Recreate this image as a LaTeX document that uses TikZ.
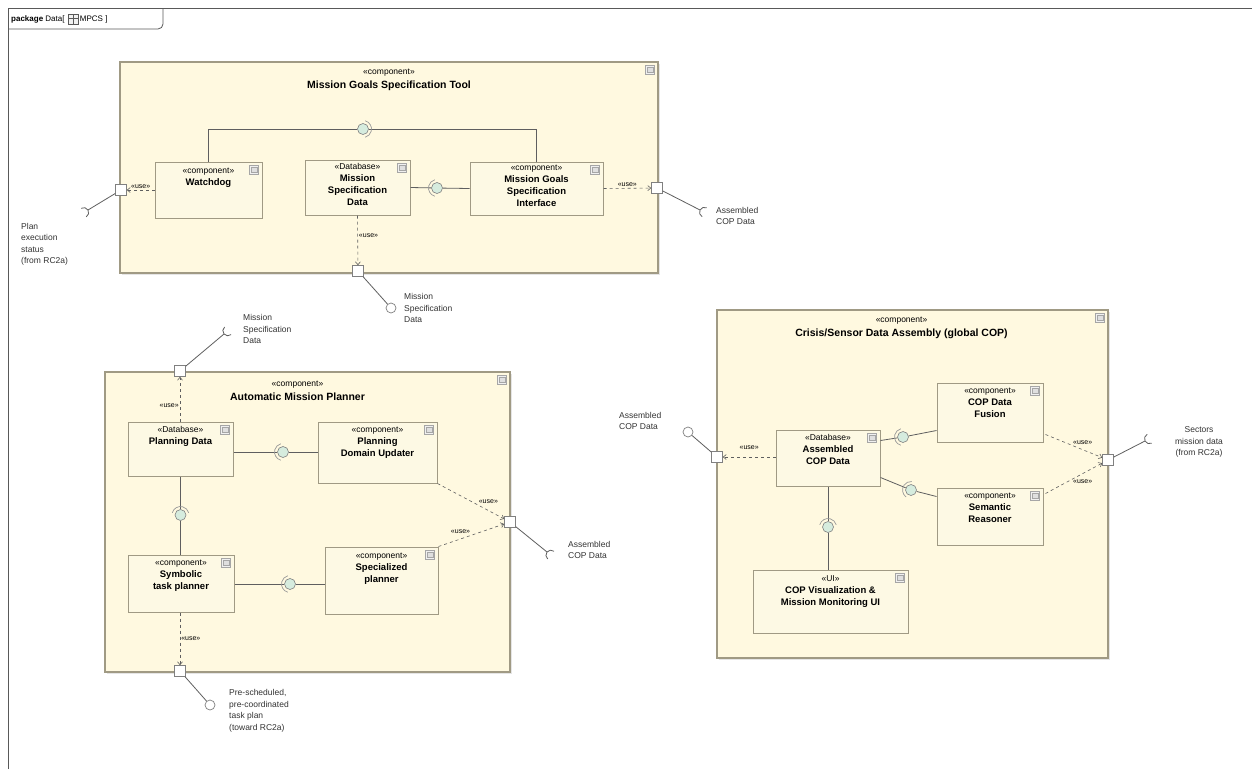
\documentclass[tikz,border=0pt]{standalone}
\usepackage{fontspec}
\setmainfont{Liberation Sans}
\usetikzlibrary{arrows.meta,shadows,calc}
\definecolor{boxfill}{RGB}{253,249,228}
\definecolor{outerfill}{RGB}{255,249,224}
\definecolor{boxline}{RGB}{160,154,132}
\definecolor{ballfill}{RGB}{214,236,222}
\definecolor{linec}{RGB}{95,95,95}
\newcommand\stt[1]{{\normalfont\fontsize{8.5}{11}\selectfont «#1»}}
\newcommand\cicon[1]{%
  \draw[gray!70,fill=gray!12,line width=0.5pt] ($(#1)+(-13,4)$) rectangle ++(9,9);
  \draw[gray!70,fill=gray!25,line width=0.4pt] ($(#1)+(-11.5,6)$) rectangle ++(6,5);}
\newcommand\sock[2]{\draw[conn] ($(#1)+(#2:5)+(#2+90:5)$) arc[start angle=#2+90, end angle=#2+270, radius=5];}
\newcommand\asm[2]{\draw[gray!80,line width=0.7pt] ($(#1)+(#2-75:8.5)$) arc[start angle=#2-75, end angle=#2+75, radius=8.5];}
\tikzset{
  container/.style={draw=boxline, line width=1.2pt, fill=outerfill, drop shadow={shadow xshift=1.5pt,shadow yshift=-1.5pt,fill=gray!40}},
  part/.style={draw=boxline, line width=1pt, fill=boxfill, drop shadow={shadow xshift=1.2pt,shadow yshift=-1.2pt,fill=gray!40}},
  port/.style={draw=gray, fill=white, minimum size=11pt, inner sep=0pt, line width=0.6pt},
  ball/.style={circle, draw=gray, fill=ballfill, minimum size=11pt, inner sep=0pt, line width=0.6pt},
  lolly/.style={circle, draw=gray, fill=white, minimum size=10pt, inner sep=0pt, line width=0.7pt},
  conn/.style={draw=linec, line width=0.8pt},
  dep/.style={dashed, draw=linec, line width=0.6pt, -{Straight Barb[length=3pt,width=5pt]}},
  nm/.style={font=\bfseries\fontsize{9.5}{12}\selectfont, align=center, inner sep=1pt},
  ttl/.style={font=\bfseries\fontsize{10.5}{14}\selectfont, align=center, inner sep=1pt},
  ext/.style={font=\fontsize{8.5}{11.5}\selectfont, align=left, text=black!80, inner sep=1pt},
  use/.style={font=\fontsize{7}{8}\selectfont, inner sep=1pt}
}
\begin{document}
\begin{tikzpicture}[x=1pt,y=-1pt]
\useasboundingbox (0,0) rectangle (1252,769);
\fill[white] (0,0) rectangle (1252,769);
% frame
\draw[gray!70!black, line width=1pt] (8,769) -- (8,8) -- (1252,8);
\draw[gray!70!black, line width=0.8pt, rounded corners=5pt] (8,29) -| (163,8);
\node[anchor=west, font=\fontsize{8}{9}\selectfont, inner sep=0pt] (tabA) at (11,19) {\textbf{package} Data[};
\draw[gray!70!black, fill=gray!10, line width=0.5pt] ($(tabA.east)+(3,-5)$) rectangle ++(10,10);
\draw[gray!70!black, line width=0.4pt] ($(tabA.east)+(3,-1)$) -- ++(10,0) ($(tabA.east)+(8,-5)$) -- ++(0,10);
\node[anchor=west, font=\fontsize{8}{9}\selectfont, inner sep=0pt] (tabB) at ($(tabA.east)+(15,0)$) {MPCS ]};

% ===== Mission Goals Specification Tool =====
\node[container, minimum width=538, minimum height=211,
  label={[ttl, anchor=north, yshift=-6pt]north:{\stt{component}\\Mission Goals Specification Tool}}] (mgst) at (389,167.5) {};
\cicon{mgst.north east}
\node[part, minimum width=107, minimum height=56,
  label={[nm, anchor=north, yshift=-5pt]north:{\stt{component}\\Watchdog}}] (wd) at (208.5,190) {};
\cicon{wd.north east}
\node[part, minimum width=105, minimum height=55,
  label={[nm, anchor=north, yshift=-3pt]north:{\stt{Database}\\Mission\\Specification\\Data}}] (msd) at (357.5,187.5) {};
\cicon{msd.north east}
\node[part, minimum width=133, minimum height=53,
  label={[nm, anchor=north, yshift=-2pt]north:{\stt{component}\\Mission Goals\\Specification\\Interface}}] (mgsi) at (536.5,188.5) {};
\cicon{mgsi.north east}
\node[ball] (b1) at (363,129) {};
\draw[conn] (wd.north) |- (b1) -| (mgsi.north);
\asm{b1}{0}
\node[ball] (b2) at (437,188) {};
\draw[conn] (msd.east) -- (b2) -- (mgsi.west);
\asm{b2}{180}
% ports
\node[port] (p1) at (121,190) {};
\node[port] (p2) at (657,188) {};
\node[port] (p3) at (358,271) {};
\draw[dep] (wd.west) -- (p1) node[use, midway, above] {«use»};
\draw[dep] (mgsi.east) -- (p2) node[use, midway, above] {«use»};
\draw[dep] (msd.south) -- (p3) node[use, pos=0.4, right] {«use»};
\coordinate (s1) at (88,210);
\draw[conn] (p1) -- (s1); \sock{s1}{149}
\coordinate (s2) at (700,210);
\draw[conn] (p2) -- (s2); \sock{s2}{27}
\node[lolly] (c3) at (391,308) {};
\draw[conn] (p3) -- (c3);
\node[ext, anchor=north west] (l1) at (20,222) {Plan\\execution\\status\\(from RC2a)};
\node[ext, anchor=west] (l2) at (715,216) {Assembled\\COP Data};
\node[ext, anchor=west] (l3) at (403,308) {Mission\\Specification\\Data};

% ===== Automatic Mission Planner =====
\node[container, minimum width=405, minimum height=300,
  label={[ttl, anchor=north, yshift=-8pt, xshift=-10pt]north:{\stt{component}\\Automatic Mission Planner}}] (amp) at (307.5,522) {};
\cicon{amp.north east}
\node[part, minimum width=105, minimum height=54,
  label={[nm, anchor=north, yshift=-4pt]north:{\stt{Database}\\Planning Data}}] (pd) at (180.5,449) {};
\cicon{pd.north east}
\node[part, minimum width=119, minimum height=61,
  label={[nm, anchor=north, yshift=-4pt]north:{\stt{component}\\Planning\\Domain Updater}}] (pdu) at (377.5,452.5) {};
\cicon{pdu.north east}
\node[part, minimum width=106, minimum height=57,
  label={[nm, anchor=north, yshift=-4pt]north:{\stt{component}\\Symbolic\\task planner}}] (stp) at (181,583.5) {};
\cicon{stp.north east}
\node[part, minimum width=113, minimum height=67,
  label={[nm, anchor=north, yshift=-5pt]north:{\stt{component}\\Specialized\\planner}}] (sp) at (381.5,580.5) {};
\cicon{sp.north east}
\node[ball] (b3) at (283,452) {};
\draw[conn] (pd.east |- b3) -- (b3) -- (pdu.west |- b3);
\asm{b3}{180}
\node[ball] (b4) at (180.5,515) {};
\draw[conn] (pd.south) -- (b4) -- (stp.north -| b4);
\asm{b4}{-90}
\node[ball] (b5) at (290,584) {};
\draw[conn] (stp.east |- b5) -- (b5) -- (sp.west |- b5);
\asm{b5}{180}
\node[port] (p4) at (180,371) {};
\node[port] (p5) at (510,522) {};
\node[port] (p6) at (180,671) {};
\draw[dep] (pd.north -| p4) -- (p4) node[use, pos=0.35, left] {«use»};
\draw[dep] (pdu.south east) -- (p5) node[use, pos=0.6, above right] {«use»};
\draw[dep] (sp.north east) -- (p5) node[use, pos=0.5, above left] {«use»};
\draw[dep] (stp.south -| p6) -- (p6) node[use, midway, right] {«use»};
\coordinate (s4) at (224,334);
\draw[conn] (p4) -- (s4); \sock{s4}{-40}
\coordinate (s5) at (547,552);
\draw[conn] (p5) -- (s5); \sock{s5}{39}
\node[lolly] (c6) at (210,705) {};
\draw[conn] (p6) -- (c6);
\node[ext, anchor=west] (l4) at (242,329) {Mission\\Specification\\Data};
\node[ext, anchor=west] (l5) at (567,550) {Assembled\\COP Data};
\node[ext, anchor=west] (l6) at (228,711) {Pre-scheduled,\\pre-coordinated\\task plan\\(toward RC2a)};

% ===== Crisis/Sensor Data Assembly =====
\node[container, minimum width=391, minimum height=348,
  label={[ttl, anchor=north, yshift=-6pt, xshift=-11pt]north:{\stt{component}\\Crisis/Sensor Data Assembly (global COP)}}] (csda) at (912.5,484) {};
\cicon{csda.north east}
\node[part, minimum width=104, minimum height=56,
  label={[nm, anchor=north, yshift=-4pt]north:{\stt{Database}\\Assembled\\COP Data}}] (acd) at (828,458) {};
\cicon{acd.north east}
\node[part, minimum width=106, minimum height=59,
  label={[nm, anchor=north, yshift=-4pt]north:{\stt{component}\\COP Data\\Fusion}}] (cdf) at (990,412.5) {};
\cicon{cdf.north east}
\node[part, minimum width=106, minimum height=57,
  label={[nm, anchor=north, yshift=-4pt]north:{\stt{component}\\Semantic\\Reasoner}}] (sr) at (990,516.5) {};
\cicon{sr.north east}
\node[part, minimum width=155, minimum height=63,
  label={[nm, anchor=north, yshift=-5pt]north:{\stt{UI}\\COP Visualization \&\\Mission Monitoring UI}}] (ui) at (830.5,601.5) {};
\cicon{ui.north east}
\node[ball] (b6) at (903,437) {};
\draw[conn] ($(acd.north east)+(0,11)$) -- (b6) -- ($(cdf.south west)+(0,-12)$);
\asm{b6}{180}
\node[ball] (b7) at (911,490) {};
\draw[conn] ($(acd.south east)+(0,-9)$) -- (b7) -- ($(sr.north west)+(0,9)$);
\asm{b7}{200}
\node[ball] (b8) at (828,527) {};
\draw[conn] (acd.south) -- (b8) -- (ui.north -| b8);
\asm{b8}{-90}
\node[port] (p7) at (717,457) {};
\node[port] (p8) at (1108,460) {};
\draw[dep] (acd.west |- p7) -- (p7) node[use, midway, above, yshift=6pt] {«use»};
\draw[dep] ($(cdf.south east)+(2,-8)$) -- (p8) node[use, pos=0.5, above right, xshift=-2pt] {«use»};
\draw[dep] ($(sr.north east)+(2,6)$) -- (p8) node[use, pos=0.5, below right, xshift=-2pt] {«use»};
\node[lolly] (c7) at (688,432) {};
\draw[conn] (p7) -- (c7);
\coordinate (s8) at (1145,441);
\draw[conn] (p8) -- (s8); \sock{s8}{-27}
\node[ext, anchor=west] (l7) at (618,421) {Assembled\\COP Data};
\node[ext, align=center] (l8) at (1199,442) {Sectors\\mission data\\(from RC2a)};
\end{tikzpicture}
\end{document}
